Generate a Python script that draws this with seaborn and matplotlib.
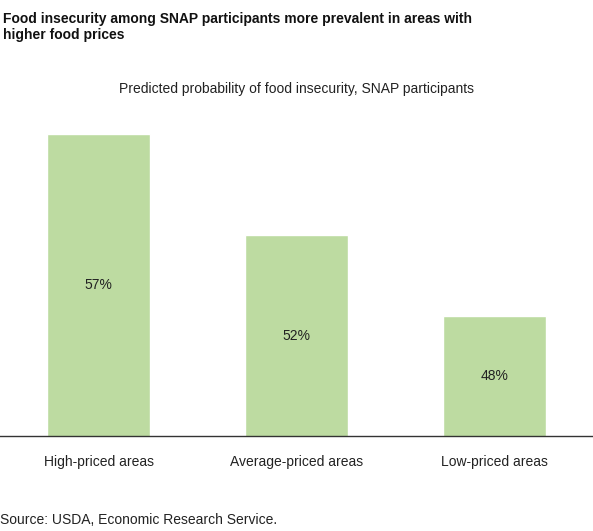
import matplotlib
matplotlib.use("Agg")
import matplotlib.pyplot as plt
import seaborn as sns
import pandas as pd

categories = ["High-priced areas", "Average-priced areas", "Low-priced areas"]
values = [57, 52, 48]
labels = ["57%", "52%", "48%"]

sns.set_theme(style="white")
plt.rcParams['font.family'] = ['Liberation Sans', 'DejaVu Sans']

fig = plt.figure(figsize=(5.93, 5.31), dpi=100)
ax = fig.add_axes([0, 436/531 and 1-436/531, 1, (436-71)/531])
df = pd.DataFrame({"cat": categories, "val": values})
sns.barplot(data=df, x="cat", y="val", color="#bddba1", saturation=1, width=0.52, ax=ax)
ax.set_ylim(42.1, 60.1)
ax.set_xlim(-0.5, 2.5)
for i, (v, l) in enumerate(zip(values, labels)):
    ax.text(i, (42.1 + v) / 2, l, ha="center", va="center", fontsize=10, color="#222222")
for s in ["top", "left", "right"]:
    ax.spines[s].set_visible(False)
ax.spines["bottom"].set_color("#333333")
ax.spines["bottom"].set_linewidth(1)
ax.set_yticks([])
ax.set_xlabel("")
ax.set_ylabel("")
ax.tick_params(axis="x", labelsize=10, colors="#222222", pad=8)

fig.text(0.005, 1-12/531, "Food insecurity among SNAP participants more prevalent in areas with\nhigher food prices",
         fontsize=10, fontweight="bold", va="top", ha="left", color="#111111", linespacing=1.2)
fig.text(0.5, 1-89/531, "Predicted probability of food insecurity, SNAP participants",
         fontsize=10, ha="center", va="center", color="#222222")
fig.text(0.0, 1-520/531, "Source: USDA, Economic Research Service.", fontsize=10, ha="left", va="center", color="#222222")
fig.savefig("out.png", dpi=100)
